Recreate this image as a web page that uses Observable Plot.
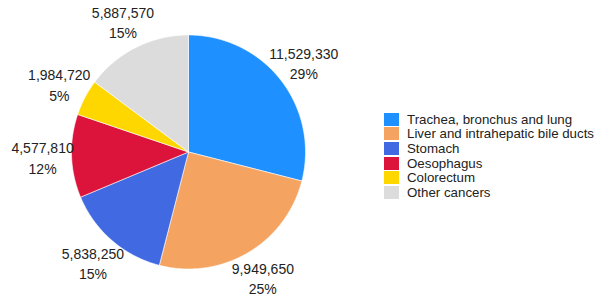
<!DOCTYPE html>
<html>
<head>
<meta charset="utf-8">
<script src="https://cdn.jsdelivr.net/npm/d3@7"></script>
<script src="https://cdn.jsdelivr.net/npm/@observablehq/plot@0.6"></script>
<style>
  html, body { margin: 0; padding: 0; background: #fff; }
  #wrap { position: relative; width: 598px; height: 299px; font-family: "Liberation Sans", Arial, sans-serif; }
  #legend { position: absolute; left: 384px; top: 112px; font-size: 13.3px; color: #222; }
  .row { display: flex; align-items: center; height: 14.6px; }
  .sw { width: 15px; height: 13px; margin-right: 8px; }
</style>
</head>
<body>
<div id="wrap"></div>
<script>
const categories = ["Trachea, bronchus and lung", "Liver and intrahepatic bile ducts", "Stomach", "Oesophagus", "Colorectum", "Other cancers"];
const values = [11529330, 9949650, 5838250, 4577810, 1984720, 5887570];
const colors = ["#1e90ff", "#f4a460", "#4169e1", "#dc143c", "#ffd700", "#dcdcdc"];

const W = 598, H = 299;
const cx = 188, cy = 151.5, R = 117, labelR = 146;

const data = categories.map((c, i) => ({category: c, value: values[i]}));
const total = d3.sum(values);
const arcs = d3.pie().sort(null).value(d => d.value)(data);

const polys = [];
arcs.forEach(a => {
  polys.push({category: a.data.category, x: cx, y: cy});
  const n = Math.max(2, Math.ceil((a.endAngle - a.startAngle) / 0.01));
  for (let k = 0; k <= n; k++) {
    const t = a.startAngle + (a.endAngle - a.startAngle) * k / n;
    polys.push({category: a.data.category, x: cx + R * Math.sin(t), y: cy - R * Math.cos(t)});
  }
  polys.push({category: a.data.category, x: cx, y: cy});
});

const fmt = d3.format(",");
const labels = arcs.map(a => {
  const m = (a.startAngle + a.endAngle) / 2;
  return {
    category: a.data.category,
    x: cx + labelR * Math.sin(m),
    y: cy - labelR * Math.cos(m),
    text: fmt(a.data.value) + "\n" + Math.round(a.data.value / total * 100) + "%"
  };
});

const chart = Plot.plot({
  width: W, height: H,
  margin: 0,
  x: {domain: [0, W], range: [0, W], axis: null},
  y: {domain: [0, H], range: [0, H], axis: null},
  color: {domain: categories, range: colors},
  style: {fontFamily: "'Liberation Sans', Arial, sans-serif", background: "white"},
  marks: [
    Plot.line(polys, {x: "x", y: "y", z: "category", fill: "category", stroke: "white", strokeWidth: 0.6, curve: "linear"}),
    Plot.text(labels, {x: "x", y: "y", text: "text", fontSize: 14, lineHeight: 1.45, fill: "#222"})
  ]
});

const wrap = document.getElementById("wrap");
wrap.appendChild(chart);
const legend = document.createElement("div");
legend.id = "legend";
categories.forEach((c, i) => {
  const row = document.createElement("div");
  row.className = "row";
  const sw = document.createElement("div");
  sw.className = "sw";
  sw.style.background = colors[i];
  const lab = document.createElement("span");
  lab.textContent = c;
  row.appendChild(sw); row.appendChild(lab);
  legend.appendChild(row);
});
wrap.appendChild(legend);
</script>
</body>
</html>
